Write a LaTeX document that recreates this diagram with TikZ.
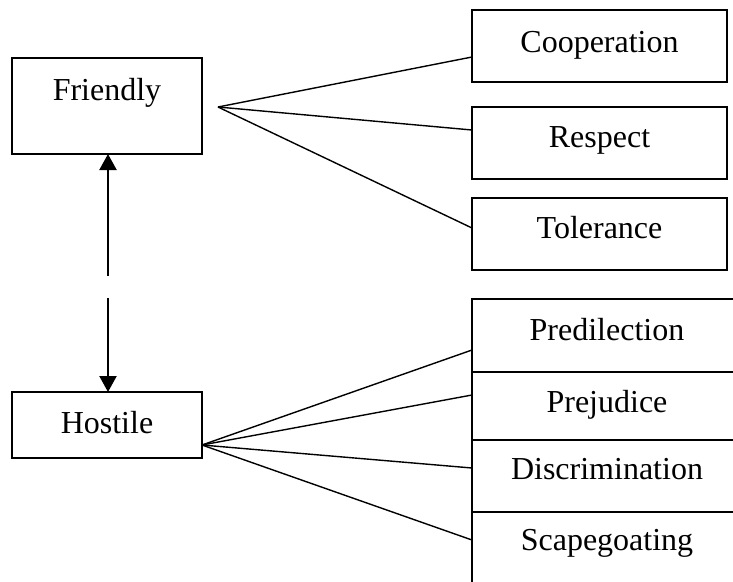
\documentclass[tikz,border=0pt]{standalone}
\usepackage{fontspec}
\setmainfont{Liberation Serif}
\usetikzlibrary{arrows.meta}
\begin{document}
\begin{tikzpicture}[x=1pt,y=-1pt,
  box/.style={draw,line width=1.8pt,inner xsep=0pt,inner ysep=0pt,outer sep=0pt,
    anchor=north west,font=\fontsize{32}{38}\selectfont},
  fan/.style={line width=1.4pt},
  dbl/.style={line width=2.2pt,-{Triangle[width=17pt,length=16pt]}}]
\clip (0,0) rectangle (733,581);
\fill[white] (0,0) rectangle (733,581);
% left boxes
\node[box,minimum width=190pt,text height=42pt,text depth=54pt] (friendly) at (12,58) {Friendly};
\node[box,minimum width=190pt,text height=41pt,text depth=25pt] (hostile) at (12,392) {Hostile};
% friendly-side boxes
\node[box,minimum width=255pt,text height=42pt,text depth=30pt] (coop) at (472,10) {Cooperation};
\node[box,minimum width=255pt,text height=40pt,text depth=32pt] (resp) at (472,107) {Respect};
\node[box,minimum width=255pt,text height=40pt,text depth=32pt] (tol) at (472,198) {Tolerance};
% hostile-side stack
\node[box,minimum width=270pt,text height=41pt,text depth=32pt] (pred) at (472,299) {Predilection};
\node[box,minimum width=270pt,text height=40pt,text depth=28pt] (prej) at (472,372) {Prejudice};
\node[box,minimum width=270pt,text height=39pt,text depth=33pt] (disc) at (472,440) {Discrimination};
\node[box,minimum width=270pt,text height=38pt,text depth=70pt] (scape) at (472,512) {Scapegoating};
% fan origins
\coordinate (fo) at (218,107);
\coordinate (ho) at ([yshift=-20pt]hostile.east);
\draw[fan] (fo) -- ([yshift=-11pt]coop.west);
\draw[fan] (fo) -- ([yshift=13pt]resp.west);
\draw[fan] (fo) -- ([yshift=6pt]tol.west);
\draw[fan] (ho) -- ([yshift=-14.5pt]pred.west);
\draw[fan] (ho) -- ([yshift=11pt]prej.west);
\draw[fan] (ho) -- ([yshift=8pt]disc.west);
\draw[fan] (ho) -- ([yshift=26pt]scape.west);
% double arrow with gap
\coordinate (a1) at (108,276);
\coordinate (a2) at (108,298);
\draw[dbl] (a1) -- (a1 |- friendly.south);
\draw[dbl] (a2) -- (a2 |- hostile.north);
\end{tikzpicture}
\end{document}
